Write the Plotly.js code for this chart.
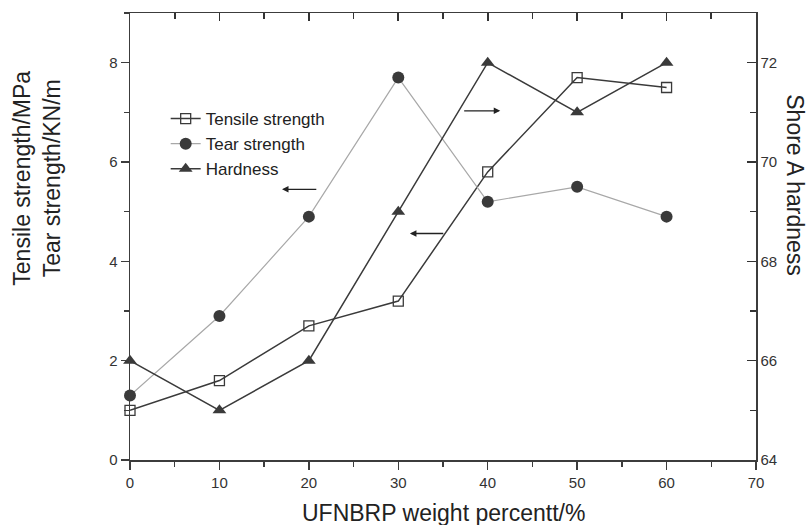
<!DOCTYPE html>
<html>
<head>
<meta charset="utf-8">
<script src="https://cdn.plot.ly/plotly-3.0.1.min.js"></script>
<style>html,body{margin:0;padding:0;background:#fff;}#chart{width:807px;height:525px;}</style>
</head>
<body>
<div id="chart"></div>
<script>
var weightPercent = [0, 10, 20, 30, 40, 50, 60];
var tensileStrength = [1.0, 1.6, 2.7, 3.2, 5.8, 7.7, 7.5];
var tearStrength = [1.3, 2.9, 4.9, 7.7, 5.2, 5.5, 4.9];
var hardness = [66, 65, 66, 69, 72, 71, 72];
var seriesNames = ['Tensile strength', 'Tear strength', 'Hardness'];
var xTitle = 'UFNBRP weight percentt/%';
var yLeftTitle = 'Tensile strength/MPa<br>Tear strength/KN/m';
var yRightTitle = 'Shore A hardness';

var FONT = 'Arial, "Liberation Sans", sans-serif';
var AX = '#3c3c3c';

var traces = [
  {x: weightPercent, y: tensileStrength, name: seriesNames[0], type: 'scatter', mode: 'lines+markers',
   line: {color: '#3a3a3a', width: 1.5},
   marker: {symbol: 'square-open', size: 10, color: '#3a3a3a', line: {width: 1.3, color: '#3a3a3a'}},
   cliponaxis: false, xaxis: 'x', yaxis: 'y'},
  {x: weightPercent, y: tearStrength, name: seriesNames[1], type: 'scatter', mode: 'lines+markers',
   line: {color: '#a8a8a8', width: 1.2},
   marker: {symbol: 'circle', size: 12, color: '#3a3a3a'},
   cliponaxis: false, xaxis: 'x', yaxis: 'y'},
  {x: weightPercent, y: hardness, name: seriesNames[2], type: 'scatter', mode: 'lines+markers',
   line: {color: '#3a3a3a', width: 1.5},
   marker: {symbol: 'triangle-up', size: 12, color: '#3a3a3a'},
   cliponaxis: false, xaxis: 'x2', yaxis: 'y2'}
];

function arrow(x, y, ax, ay) {
  return {x: x, y: y, ax: ax, ay: ay, xref: 'x', yref: 'y', axref: 'x', ayref: 'y',
          text: '', showarrow: true, arrowhead: 2, arrowsize: 1, arrowwidth: 1.3, arrowcolor: '#222'};
}

var layout = {
  width: 807, height: 525,
  margin: {l: 130, r: 51, t: 13, b: 65},
  paper_bgcolor: '#fff', plot_bgcolor: '#fff',
  font: {family: FONT, color: '#222', size: 14},
  showlegend: true,
  legend: {x: 0.057, y: 0.803, xanchor: 'left', yanchor: 'top', bgcolor: 'rgba(0,0,0,0)',
           font: {family: FONT, size: 17, color: '#222'}},
  xaxis: {range: [0, 70], dtick: 10, tick0: 0, showgrid: false, zeroline: false,
          showline: true, linecolor: AX, linewidth: 1.5, ticks: 'outside', ticklen: 8, tickwidth: 1.5, tickcolor: AX,
          minor: {dtick: 5, ticks: 'outside', ticklen: 5, tickwidth: 1.5, tickcolor: AX},
          tickfont: {family: FONT, size: 15, color: '#333'}},
  yaxis: {range: [0, 9], dtick: 2, tick0: 0, showgrid: false, zeroline: false,
          showline: true, linecolor: AX, linewidth: 1.5, ticks: 'outside', ticklen: 8, tickwidth: 1.5, tickcolor: AX,
          minor: {dtick: 1, ticks: 'outside', ticklen: 5, tickwidth: 1.5, tickcolor: AX},
          tickfont: {family: FONT, size: 15, color: '#333'}},
  xaxis2: {range: [0, 70], dtick: 10, tick0: 0, overlaying: 'x', side: 'top', anchor: 'y2',
           showgrid: false, zeroline: false, showticklabels: false,
           showline: true, linecolor: AX, linewidth: 1.5, ticks: 'inside', ticklen: 8, tickwidth: 1.6, tickcolor: '#333',
           minor: {dtick: 5, ticks: 'inside', ticklen: 6, tickwidth: 1.6, tickcolor: '#333'}},
  yaxis2: {range: [64, 73], dtick: 2, tick0: 64, overlaying: 'y', side: 'right', anchor: 'x2',
           showgrid: false, zeroline: false,
           showline: true, linecolor: AX, linewidth: 1.5, ticks: 'inside', ticklen: 9, tickwidth: 1.6, tickcolor: '#333',
           minor: {dtick: 1, ticks: 'inside', ticklen: 6, tickwidth: 1.6, tickcolor: '#333'},
           tickfont: {family: FONT, size: 15, color: '#333'}},
  annotations: [
    {text: xTitle, xref: 'paper', yref: 'paper', x: 0.5, y: -0.119, xanchor: 'center', yanchor: 'middle',
     showarrow: false, font: {family: FONT, size: 23, color: '#222'}},
    {text: yLeftTitle, xref: 'paper', yref: 'paper', x: -0.149, y: 0.631, xanchor: 'center', yanchor: 'middle',
     textangle: -90, showarrow: false, font: {family: FONT, size: 23, color: '#222'}},
    {text: yRightTitle, xref: 'paper', yref: 'paper', x: 1.062, y: 0.615, xanchor: 'center', yanchor: 'middle',
     textangle: 90, showarrow: false, font: {family: FONT, size: 23, color: '#222'}},
    arrow(17.0, 5.45, 21.0, 5.45),
    arrow(31.3, 4.56, 35.2, 4.56),
    arrow(41.4, 7.03, 37.2, 7.03)
  ]
};

Plotly.newPlot('chart', traces, layout, {displayModeBar: false, staticPlot: true});
</script>
</body>
</html>
